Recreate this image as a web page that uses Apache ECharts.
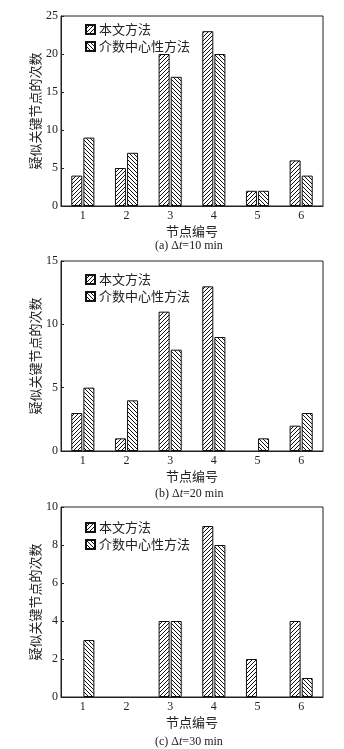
<!DOCTYPE html>
<html>
<head>
<meta charset="utf-8">
<script src="https://cdn.jsdelivr.net/npm/echarts@6/dist/echarts.min.js"></script>
<style>
  html, body { margin: 0; padding: 0; background: #fff; }
  #main { width: 344px; height: 749px; }
</style>
</head>
<body>
<div id="main"></div>
<script>
// data
var nodes = ['1', '2', '3', '4', '5', '6'];
var seriesNames = ['本文方法', '介数中心性方法'];
var oursA = [4, 5, 20, 23, 2, 6];
var betwA = [9, 7, 17, 20, 2, 4];
var oursB = [3, 1, 11, 13, 0, 2];
var betwB = [5, 4, 8, 9, 1, 3];
var oursC = [0, 0, 4, 9, 2, 4];
var betwC = [3, 0, 4, 8, 0, 1];
var yMax = [25, 15, 10];
var yStep = [5, 5, 2];
var captions = ['(a) Δ{i|t}=10 min', '(b) Δ{i|t}=20 min', '(c) Δ{i|t}=30 min'];

var serif = '"Liberation Serif", "Times New Roman", serif';
var cjk = '"Noto Sans CJK SC", sans-serif';

function hatch(dir){
	var s = 4;
	var c = document.createElement('canvas');
	c.width = s; c.height = s;
	var ctx = c.getContext('2d');
	ctx.fillStyle = '#fff';
	ctx.fillRect(0, 0, s, s);
	ctx.strokeStyle = '#111';
	ctx.lineWidth = 1;
	ctx.beginPath();
	if(dir > 0){
		ctx.moveTo(-1, s + 1); ctx.lineTo(s + 1, -1);
		ctx.moveTo(-1, 1); ctx.lineTo(1, -1);
		ctx.moveTo(s - 1, s + 1); ctx.lineTo(s + 1, s - 1);
	}else{
		ctx.moveTo(-1, -1); ctx.lineTo(s + 1, s + 1);
		ctx.moveTo(s - 1, -1); ctx.lineTo(s + 1, 1);
		ctx.moveTo(-1, s - 1); ctx.lineTo(1, s + 1);
	}
	ctx.stroke();
	return { image: c, repeat: 'repeat' };
}
var fillOurs = hatch(1);
var fillBetw = hatch(-1);

// zero counts draw no bar
function bars(arr){
	return arr.map(function(v){ return v === 0 ? '-' : v; });
}

var gridTops = [16, 261, 507];
var legendTops = [18, 268, 516];
var captionTops = [235, 483, 731];
var panels = [[oursA, betwA], [oursB, betwB], [oursC, betwC]];

var option = {
	animation: false,
	backgroundColor: '#fff',
	title: [],
	legend: [],
	grid: [],
	xAxis: [],
	yAxis: [],
	series: []
};

for(var i = 0; i < 3; i++){
	option.grid.push({
		left: 61, top: gridTops[i], width: 262, height: 190,
		show: true, borderColor: '#222', borderWidth: 1, backgroundColor: 'transparent'
	});
	option.xAxis.push({
		type: 'category', gridIndex: i, data: nodes,
		name: '节点编号', nameLocation: 'middle', nameGap: 19, nameMoveOverlap: false,
		nameTextStyle: { fontFamily: cjk, fontSize: 13, color: '#222' },
		axisLine: { lineStyle: { color: '#222', width: 1 } },
		axisTick: { inside: true, length: 4, lineStyle: { color: '#222' } },
		axisLabel: { fontFamily: serif, fontSize: 12, color: '#222', margin: 4 }
	});
	option.yAxis.push({
		type: 'value', gridIndex: i, min: 0, max: yMax[i], interval: yStep[i],
		name: '疑似关键节点的次数', nameLocation: 'middle', nameGap: 19, nameMoveOverlap: false,
		nameTextStyle: { fontFamily: cjk, fontSize: 13, color: '#222' },
		axisLine: { show: true, lineStyle: { color: '#222', width: 1 } },
		axisTick: { show: true, inside: true, length: 3, lineStyle: { color: '#222' } },
		axisLabel: { fontFamily: serif, fontSize: 12, color: '#222', margin: 3 },
		splitLine: { show: false }
	});
	option.legend.push({
		orient: 'vertical', left: 80, top: legendTops[i],
		itemWidth: 9, itemHeight: 9, itemGap: 4,
		icon: 'rect', data: seriesNames,
		textStyle: { fontFamily: cjk, fontSize: 13, color: '#222', padding: [0, 0, 0, -1] }
	});
	option.title.push({
		text: captions[i], left: 150, top: captionTops[i],
		textStyle: {
			fontFamily: serif, fontSize: 12, fontWeight: 'normal', color: '#222',
			rich: { i: { fontFamily: serif, fontSize: 12, fontStyle: 'italic', color: '#222' } }
		}
	});
	option.series.push({
		name: seriesNames[0], type: 'bar', xAxisIndex: i, yAxisIndex: i,
		data: bars(panels[i][0]), barWidth: 11, barGap: '10%',
		itemStyle: { color: fillOurs, borderColor: '#111', borderWidth: 1 }
	});
	option.series.push({
		name: seriesNames[1], type: 'bar', xAxisIndex: i, yAxisIndex: i,
		data: bars(panels[i][1]), barWidth: 11, barGap: '10%',
		itemStyle: { color: fillBetw, borderColor: '#111', borderWidth: 1 }
	});
}

var chart = echarts.init(document.getElementById('main'));
chart.setOption(option);
</script>
</body>
</html>
